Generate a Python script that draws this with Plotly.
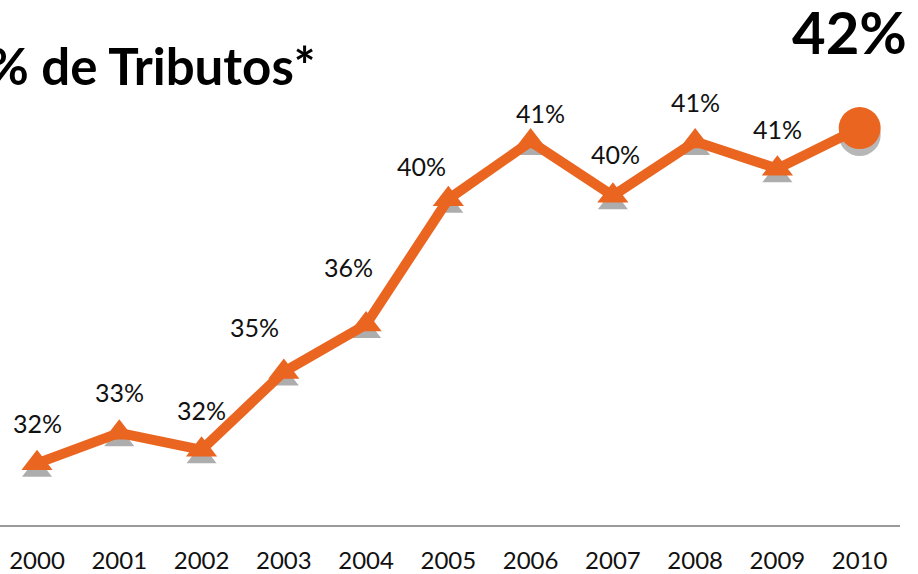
import plotly.graph_objects as go

years = [2000, 2001, 2002, 2003, 2004, 2005, 2006, 2007, 2008, 2009, 2010]
values = [31.9, 32.8, 32.3, 34.6, 36.0, 39.7, 41.4, 39.8, 41.4, 40.6, 41.8]
labels = ["32%", "33%", "32%", "35%", "36%", "40%", "41%", "40%", "41%", "41%"]
highlight = "42%"
title_text = "% de Tributos*"

ORANGE = "#EA6520"
FONT = "Lato, 'Open Sans', sans-serif"

# label pixel offsets (style), one per labelled point
label_dx = [0, 0, 0, -29, -18, -27, 10, 3, 0, 0]
label_dy = [40, 41, 40, 45, 57, 33, 29, 42, 40, 40]

W, H = 918, 574
ML, MR, MT, MB = 0, 18, 0, 47
plot_h = H - MT - MB
plot_w = W - ML - MR
y_range = [30.08, 45.58]
shadow_shift = 7 * (y_range[1] - y_range[0]) / plot_h

fig = go.Figure()

# marker shadows
fig.add_trace(go.Scatter(
    x=years[:-1], y=[v - shadow_shift for v in values[:-1]],
    mode="markers",
    marker=dict(symbol="triangle-up", size=26, color="rgba(50,50,50,0.4)", line=dict(width=0)),
    hoverinfo="skip", showlegend=False, cliponaxis=False,
))
fig.add_trace(go.Scatter(
    x=years[-1:], y=[v - shadow_shift for v in values[-1:]],
    mode="markers",
    marker=dict(symbol="circle", size=42, color="rgba(50,50,50,0.35)", line=dict(width=0)),
    hoverinfo="skip", showlegend=False, cliponaxis=False,
))

# main line
fig.add_trace(go.Scatter(
    x=years, y=values, mode="lines",
    line=dict(color=ORANGE, width=10),
    showlegend=False, cliponaxis=False,
))
fig.add_trace(go.Scatter(
    x=years[:-1], y=values[:-1], mode="markers",
    marker=dict(symbol="triangle-up", size=27, color=ORANGE, line=dict(width=0)),
    showlegend=False, cliponaxis=False,
))
fig.add_trace(go.Scatter(
    x=years[-1:], y=values[-1:], mode="markers",
    marker=dict(symbol="circle", size=42, color=ORANGE, line=dict(width=0)),
    showlegend=False, cliponaxis=False,
))

for i, lab in enumerate(labels):
    fig.add_annotation(
        x=years[i], y=values[i], xref="x", yref="y", text=lab,
        showarrow=False, xshift=label_dx[i], yshift=label_dy[i],
        font=dict(family=FONT, size=25, color="#111111"),
    )

# title (partially cut at the left edge) and highlight value
fig.add_annotation(
    x=317 / plot_w, y=1 - 66 / plot_h, xref="paper", yref="paper",
    text="<b>" + title_text + "</b>", showarrow=False, xanchor="right", yanchor="middle",
    font=dict(family=FONT, size=51, color="#000000"),
)
fig.add_annotation(
    x=909 / plot_w, y=1 - 32 / plot_h, xref="paper", yref="paper",
    text="<b>" + highlight + "</b>", showarrow=False, xanchor="right", yanchor="middle",
    font=dict(family=FONT, size=58, color="#000000"),
)

fig.update_xaxes(
    range=[1999.55, 2010.49], tickmode="array", tickvals=years,
    ticktext=[str(y) for y in years],
    showgrid=False, zeroline=False, showline=True, linecolor="#9a9a9a", linewidth=2,
    ticks="outside", ticklen=13, tickcolor="rgba(0,0,0,0)",
    tickfont=dict(family=FONT, size=24, color="#111111"),
)
fig.update_yaxes(range=y_range, visible=False, showgrid=False, zeroline=False)

fig.update_layout(
    width=W, height=H,
    margin=dict(l=ML, r=MR, t=MT, b=MB),
    paper_bgcolor="white", plot_bgcolor="white",
    showlegend=False,
)

fig.write_html(
    "out.html",
    config={"displayModeBar": False},
    post_script="document.body.style.margin='0';document.body.style.overflow='hidden';",
)
